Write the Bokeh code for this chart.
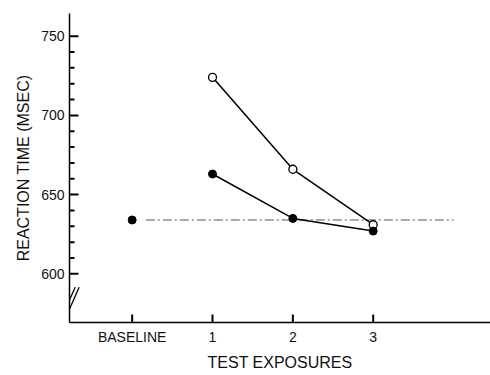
from bokeh.plotting import figure
from bokeh.models import FixedTicker, Arrow
from bokeh.embed import file_html
from bokeh.resources import INLINE

# ---- data ----
x_pos = [0, 1, 2, 3]
x_labels = ["BASELINE", "1", "2", "3"]
exposures = [1, 2, 3]
open_rt = [724, 666, 631]
filled_rt = [663, 635, 627]
baseline_x = [0]
baseline_rt = [634]
ref_level = 634
ref_x = [0.17, 4.0]
y_major = [600, 650, 700, 750]
y_minor = [610, 620, 630, 640, 660, 670, 680, 690, 710, 720, 730, 740]
break_x = [(-0.84, -0.71), (-0.79, -0.66)]
break_y = [(576.5, 591.5), (576.5, 591.5)]

FONT = "Liberation Sans"
INK = "#000000"

W, H = 490, 375
BL, BR, BT, BB = 69, 0, 13, 53
X0, X1 = -0.78, 4.46
Y0, Y1 = 569.3, 764.3
px_x = (W - BL - BR) / (X1 - X0)   # pixels per x unit
px_y = (H - BT - BB) / (Y1 - Y0)   # pixels per y unit

p = figure(width=W, height=H, output_backend="svg", toolbar_location=None,
           x_range=(X0, X1), y_range=(Y0, Y1),
           min_border_left=BL, min_border_right=BR, min_border_top=BT,
           min_border_bottom=BB)
p.outline_line_color = None
p.grid.visible = False
p.background_fill_color = "white"

# x axis
xa = p.xaxis[0]
xa.ticker = FixedTicker(ticks=x_pos)
xa.major_label_overrides = {k: v for k, v in zip(x_pos, x_labels)}
xa.major_tick_in = 0
xa.major_tick_out = 0
xa.minor_tick_line_color = None
xa.axis_label = "TEST EXPOSURES"
xa.axis_label_text_font = FONT
xa.axis_label_text_font_style = "normal"
xa.axis_label_text_font_size = "16px"
xa.axis_label_text_color = "#111111"
xa.axis_label_standoff = 6
xa.major_label_text_font = FONT
xa.major_label_text_font_size = "14px"
xa.major_label_text_color = "#111111"
xa.major_label_standoff = 6
xa.axis_line_width = 1.5
xa.axis_line_color = INK

# y axis
ya = p.yaxis[0]
ya.ticker = FixedTicker(ticks=y_major, minor_ticks=y_minor)
ya.major_tick_in = 0
ya.major_tick_out = 0
ya.minor_tick_in = 0
ya.minor_tick_out = 0
ya.axis_label = "REACTION TIME (MSEC)"
ya.axis_label_text_font = FONT
ya.axis_label_text_font_style = "normal"
ya.axis_label_text_font_size = "16px"
ya.axis_label_text_color = "#111111"
ya.axis_label_standoff = 6
ya.major_label_text_font = FONT
ya.major_label_text_font_size = "14px"
ya.major_label_text_color = "#111111"
ya.major_label_standoff = 5
ya.axis_line_width = 1.5
ya.axis_line_color = INK

# inward tick marks drawn as segments (length converted from pixels)
p.segment(x0=[X0] * len(y_major), y0=y_major,
          x1=[X0 + 9 / px_x] * len(y_major), y1=y_major,
          line_color=INK, line_width=2)
p.segment(x0=[X0] * len(y_minor), y0=y_minor,
          x1=[X0 + 5 / px_x] * len(y_minor), y1=y_minor,
          line_color=INK, line_width=2)
p.segment(x0=x_pos, y0=[Y0] * len(x_pos),
          x1=x_pos, y1=[Y0 + 8 / px_y] * len(x_pos),
          line_color=INK, line_width=2)

# reference dash-dot line at baseline level
p.line(ref_x, [ref_level, ref_level], line_color="#555555", line_width=1,
       line_dash="9 3 2 3")

# open-circle series
p.line(exposures, open_rt, line_color=INK, line_width=1.5)
p.scatter(exposures, open_rt, size=8, marker="circle", fill_color="white",
          line_color=INK, line_width=1.3)

# filled-circle series
p.line(exposures, filled_rt, line_color=INK, line_width=1.5)
p.scatter(exposures, filled_rt, size=8, marker="circle", fill_color=INK,
          line_color=INK)

# baseline point
p.scatter(baseline_x, baseline_rt, size=8, marker="circle", fill_color=INK,
          line_color=INK)

# axis break marks
for (x0, x1), (y0, y1) in zip(break_x, break_y):
    p.add_layout(Arrow(end=None, start=None, x_start=x0, y_start=y0,
                       x_end=x1, y_end=y1, line_color=INK, line_width=1.3))

open("out.html", "w").write(file_html(p, INLINE))
